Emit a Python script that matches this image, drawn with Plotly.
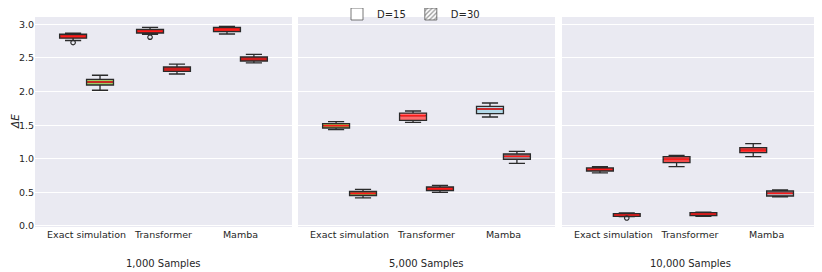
import plotly.graph_objects as go

categories = ["Exact simulation", "Transformer", "Mamba"]
panels = ["1,000 Samples", "5,000 Samples", "10,000 Samples"]
dims = ["D=15", "D=30"]
yticks = [0.0, 0.5, 1.0, 1.5, 2.0, 2.5, 3.0]

# D=15 box statistics, one list per panel (categories in order)
d15_lower = [[2.760, 2.853, 2.857], [1.433, 1.543, 1.622], [0.789, 0.882, 1.031]]
d15_q1 = [[2.795, 2.872, 2.892], [1.458, 1.573, 1.671], [0.818, 0.942, 1.091]]
d15_median = [[2.823, 2.897, 2.927], [1.493, 1.641, 1.741], [0.844, 0.992, 1.126]]
d15_q3 = [[2.853, 2.927, 2.957], [1.522, 1.680, 1.781], [0.863, 1.031, 1.165]]
d15_upper = [[2.870, 2.957, 2.970], [1.552, 1.711, 1.830], [0.882, 1.052, 1.225]]

# D=30 box statistics
d30_lower = [[2.020, 2.262, 2.426], [0.417, 0.501, 0.933], [0.138, 0.145, 0.432]]
d30_q1 = [[2.098, 2.302, 2.455], [0.451, 0.525, 0.992], [0.144, 0.153, 0.446]]
d30_median = [[2.143, 2.336, 2.485], [0.486, 0.555, 1.037], [0.164, 0.179, 0.487]]
d30_q3 = [[2.183, 2.366, 2.515], [0.516, 0.580, 1.071], [0.183, 0.198, 0.521]]
d30_upper = [[2.243, 2.410, 2.555], [0.546, 0.605, 1.111], [0.193, 0.205, 0.536]]

# outliers: panel index, category index, dim index, value
out_panel = [0, 0, 2]
out_cat = [0, 1, 0]
out_dim = [0, 0, 1]
out_value = [2.73, 2.81, 0.119]

# fill colours
d15_fill = [["#e3211c", "#e3211c", "#e3211c"],
            ["#b8b24a", "#ff6b6b", "#b3d9e8"],
            ["#e3211c", "#f04a4a", "#f03c3c"]]
d30_fill = [["#9ccc65", "#e3211c", "#e3211c"],
            ["#8a7a3a", "#e3211c", "#a08a90"],
            ["#e3211c", "#e3211c", "#b8a0a8"]]

stats = {
    0: (d15_lower, d15_q1, d15_median, d15_q3, d15_upper, d15_fill),
    1: (d30_lower, d30_q1, d30_median, d30_q3, d30_upper, d30_fill),
}

BOX_W = 0.35
OFFS = [-BOX_W / 2, BOX_W / 2]
FONT = "DejaVu Sans"
TXT = "#262626"

# the page body has an 8px margin; size the figure to fill the rest of the window
PAGE_OFF = 8
W, H = 822 - PAGE_OFF, 272 - PAGE_OFF


def px_x(px):
    return (px - PAGE_OFF) / W


def px_y(py):
    return 1 - (py - PAGE_OFF) / H


fig = go.Figure()
axis_names = ["", "2", "3"]

# boxes
for p in range(3):
    xa, ya = "x" + axis_names[p], "y" + axis_names[p]
    for d in (0, 1):
        lo, a, m, b, hi, fills = stats[d]
        for c in range(3):
            pos = c + OFFS[d]
            fig.add_trace(go.Box(
                x=[pos], lowerfence=[lo[p][c]], q1=[a[p][c]], median=[m[p][c]],
                q3=[b[p][c]], upperfence=[hi[p][c]],
                width=BOX_W, whiskerwidth=0.6,
                fillcolor=fills[p][c],
                line=dict(color="#2b2b2b", width=1.3),
                boxpoints=False, showlegend=False, hoverinfo="skip",
                xaxis=xa, yaxis=ya,
            ))

# hatch overlay for D=30 boxes (bars span q1..q3)
for p in range(3):
    xa, ya = "x" + axis_names[p], "y" + axis_names[p]
    fig.add_trace(go.Bar(
        x=[c + OFFS[1] for c in range(3)],
        base=d30_q1[p],
        y=[d30_q3[p][c] - d30_q1[p][c] for c in range(3)],
        width=BOX_W,
        marker=dict(color="rgba(0,0,0,0)", line=dict(width=0),
                    pattern=dict(shape=".", fgcolor="#2b2b2b", size=4, solidity=0.3)),
        showlegend=False, hoverinfo="skip", xaxis=xa, yaxis=ya,
    ))

# red median lines
for p in range(3):
    xa, ya = "x" + axis_names[p], "y" + axis_names[p]
    for d in (0, 1):
        med = stats[d][2]
        xs, ys = [], []
        for c in range(3):
            pos = c + OFFS[d]
            xs += [pos - BOX_W / 2 + 0.01, pos + BOX_W / 2 - 0.01, None]
            ys += [med[p][c], med[p][c], None]
        fig.add_trace(go.Scatter(x=xs, y=ys, mode="lines",
                                 line=dict(color="#ff1a1a", width=1.4),
                                 showlegend=False, hoverinfo="skip",
                                 xaxis=xa, yaxis=ya))

# outliers
for p, c, d, v in zip(out_panel, out_cat, out_dim, out_value):
    fig.add_trace(go.Scatter(
        x=[c + OFFS[d]], y=[v], mode="markers",
        marker=dict(symbol="circle-open", size=4.5, color="#2b2b2b", line=dict(width=1.2)),
        showlegend=False, hoverinfo="skip",
        xaxis="x" + axis_names[p], yaxis="y" + axis_names[p],
    ))

# legend entries
fig.add_trace(go.Bar(x=[None], y=[None], name=dims[0],
                     marker=dict(color="white", line=dict(color="#555", width=0.8))))
fig.add_trace(go.Bar(x=[None], y=[None], name=dims[1],
                     marker=dict(color="white", line=dict(color="#555", width=0.8),
                                 pattern=dict(shape="/", fgcolor="#333", size=4, solidity=0.4))))

doms = [[px_x(35), px_x(292)], [px_x(298), px_x(555)], [px_x(562), px_x(818)]]
ydom = [px_y(227), px_y(17)]

layout = dict(
    width=W, height=H,
    margin=dict(l=0, r=0, t=0, b=0, autoexpand=False),
    paper_bgcolor="white", plot_bgcolor="#eaeaf2",
    barmode="overlay", boxmode="overlay",
    font=dict(family=FONT, size=9.5, color=TXT),
    legend=dict(orientation="h", x=px_x(411), xanchor="center", y=px_y(14),
                yanchor="middle", bgcolor="rgba(0,0,0,0)", font=dict(size=10),
                itemwidth=30, tracegroupgap=0),
    showlegend=True,
)
for p in range(3):
    layout["xaxis" + axis_names[p]] = dict(
        domain=doms[p], range=[-0.67, 2.67], tickmode="array",
        tickvals=[0, 1, 2], ticktext=categories, showgrid=False, zeroline=False,
        showline=False, ticks="", tickfont=dict(size=9.5, color=TXT),
        anchor="y" + axis_names[p], automargin=False, fixedrange=True,
    )
    layout["yaxis" + axis_names[p]] = dict(
        domain=ydom, range=[-0.015, 3.11], tickmode="array", tickvals=yticks,
        ticktext=["%.1f" % t for t in yticks], showticklabels=(p == 0),
        showgrid=True, gridcolor="white", gridwidth=1, zeroline=False,
        showline=False, ticks="", tickfont=dict(size=9.5, color=TXT),
        anchor="x" + axis_names[p], automargin=False,
        matches=None if p == 0 else "y",
    )
fig.update_layout(**layout)

annotations = []
for p in range(3):
    annotations.append(dict(text=panels[p], x=(doms[p][0] + doms[p][1]) / 2, y=px_y(263),
                            xref="paper", yref="paper", showarrow=False,
                            font=dict(size=10, color=TXT), xanchor="center", yanchor="middle"))
annotations.append(dict(text="<i>ΔE</i>", x=px_x(15), y=(ydom[0] + ydom[1]) / 2,
                        xref="paper", yref="paper", showarrow=False, textangle=-90,
                        font=dict(size=10.5, color=TXT), xanchor="center", yanchor="middle"))
fig.update_layout(annotations=annotations)

fig.write_html("out.html")
